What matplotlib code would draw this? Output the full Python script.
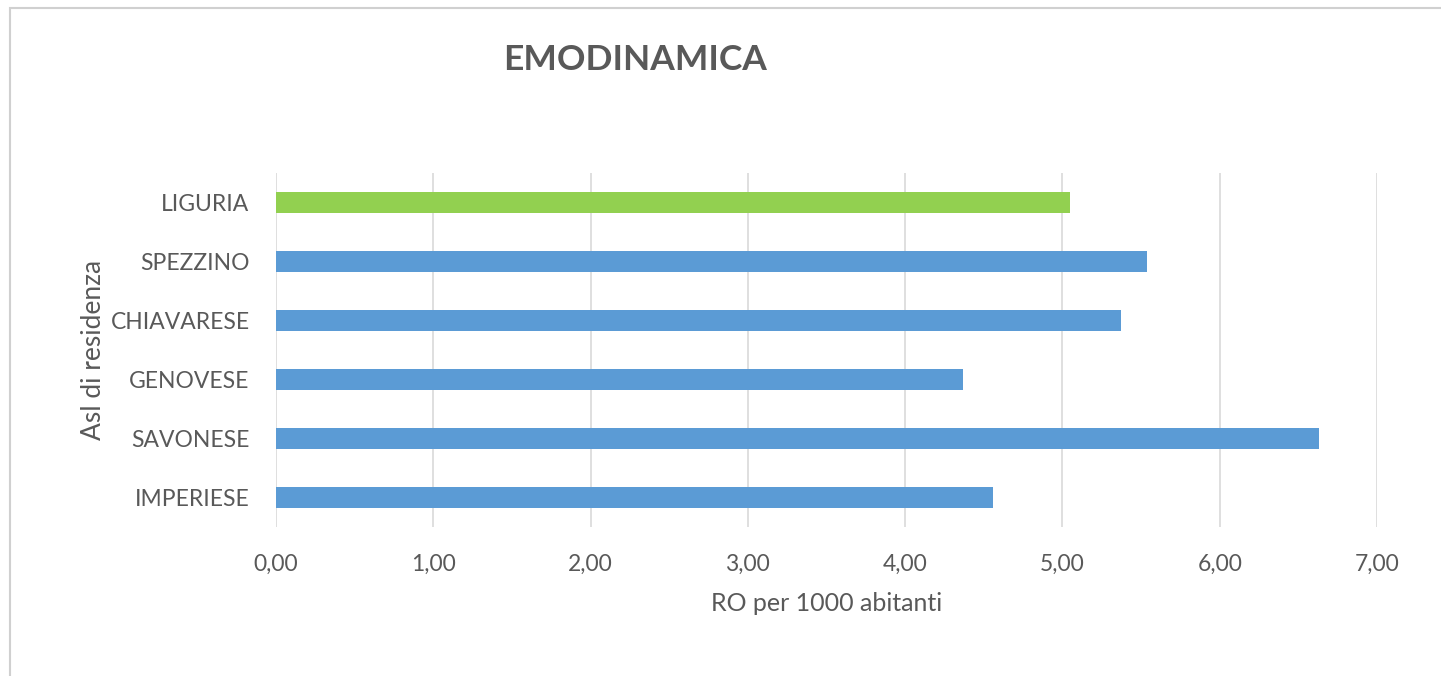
import matplotlib.pyplot as plt
from matplotlib.patches import Rectangle

# Dati
asl = ['IMPERIESE', 'SAVONESE', 'GENOVESE', 'CHIAVARESE', 'SPEZZINO', 'LIGURIA']
ro_1000 = [4.56, 6.63, 4.37, 5.37, 5.54, 5.05]
colori = ['#5B9BD5', '#5B9BD5', '#5B9BD5', '#5B9BD5', '#5B9BD5', '#92D050']
tick_x = [0, 1, 2, 3, 4, 5, 6, 7]

plt.rcParams['font.family'] = ['Lato', 'DejaVu Sans']
grigio = '#595959'

fig = plt.figure(figsize=(14.41, 6.76), dpi=100)
ax = fig.add_axes([0.1915, 0.2204, 0.7641, 0.5236])

ax.barh(asl, ro_1000, height=0.36, color=colori, zorder=3)

ax.set_xlim(0, 7)
ax.set_ylim(-0.5, len(asl) - 0.5)
ax.set_xticks(tick_x)
ax.set_xticklabels([f'{v:.2f}'.replace('.', ',') for v in tick_x])
ax.grid(axis='x', color='#D9D9D9', linewidth=1.2, zorder=0)
ax.tick_params(length=0, colors=grigio, labelsize=16.5)
ax.tick_params(axis='x', pad=19)
ax.tick_params(axis='y', pad=19)
for s in ax.spines.values():
    s.set_visible(False)

ax.set_xlabel('RO per 1000 abitanti', fontsize=18, color=grigio, labelpad=13)
ax.set_ylabel('Asl di residenza', fontsize=19, color=grigio, labelpad=3)

fig.text(0.441, 0.911, 'EMODINAMICA', fontsize=25.5, fontweight='bold',
         color=grigio, ha='center', va='center')

# cornice del grafico
fig.patches.append(Rectangle((10 / 1441, -0.1), 1.2, 1 - 8 / 676 + 0.1,
                             transform=fig.transFigure, fill=False,
                             edgecolor='#D0D0D0', linewidth=1.5))

fig.savefig('out.png', dpi=100)
